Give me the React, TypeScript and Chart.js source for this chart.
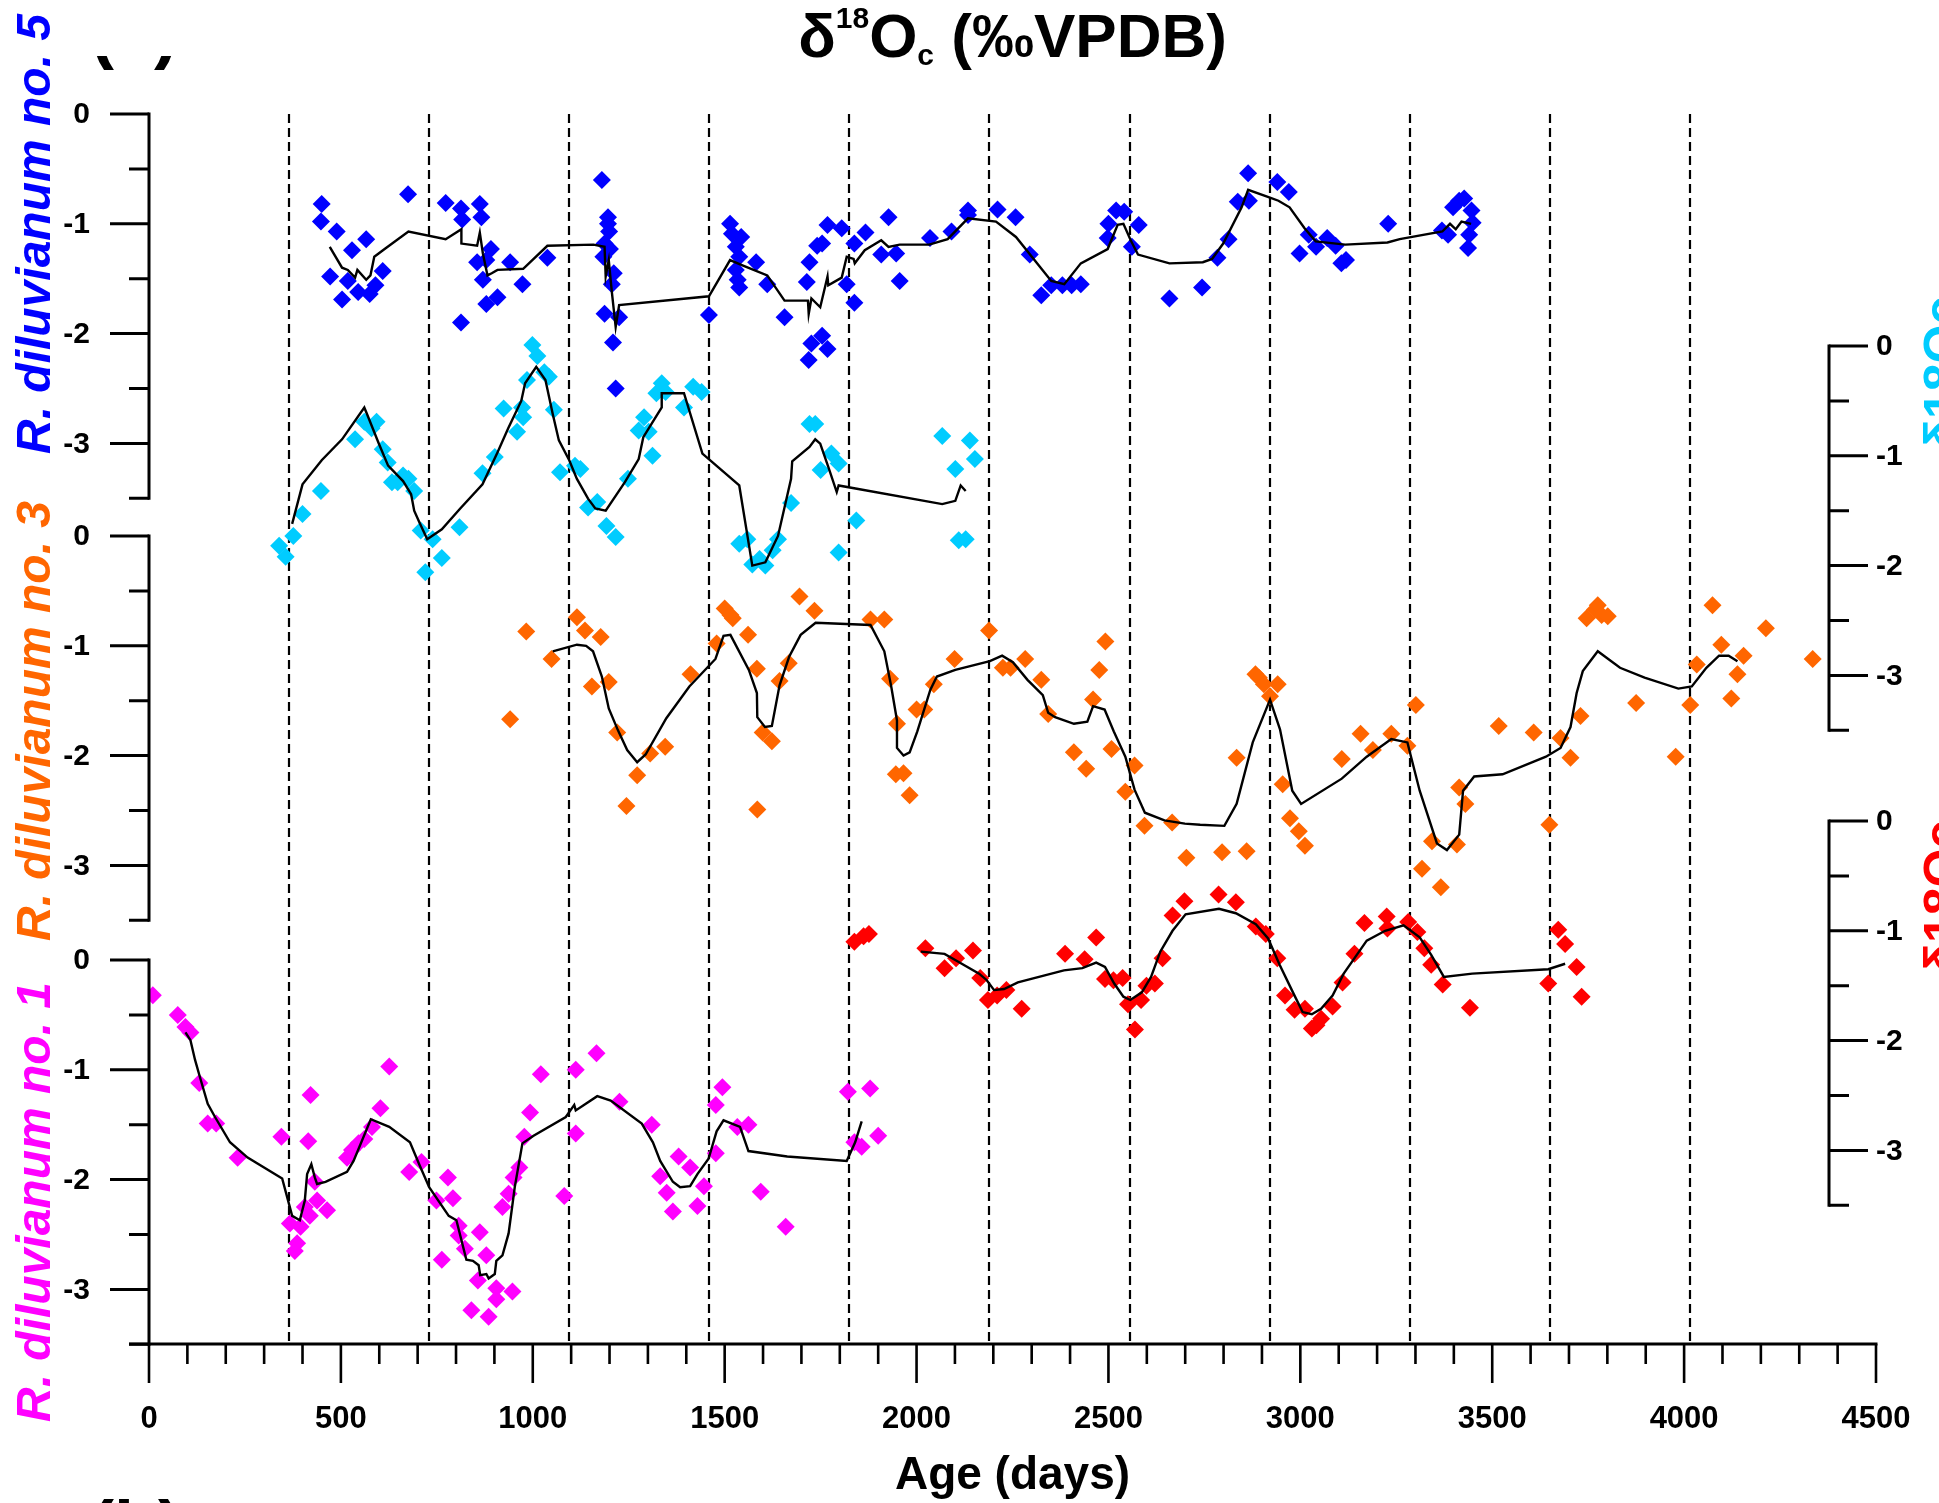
import { useEffect, useRef } from 'react';
import { Chart, registerables } from 'chart.js';

Chart.register(...registerables);

// ---------------- data ----------------
// R. diluvianum no. 5 (blue, top left axis)
const blueDays = [448, 450, 472, 489, 503, 518, 529, 545, 566, 575, 590, 609, 675, 773, 813, 816, 813, 855, 862, 866, 870, 879, 879, 891, 908, 941, 973, 1038, 1180, 1184, 1187, 1187, 1196, 1196, 1199, 1201, 1206, 1209, 1211, 1216, 1225, 1459, 1514, 1519, 1529, 1529, 1534, 1538, 1538, 1543, 1582, 1611, 1656, 1714, 1719, 1721, 1726, 1741, 1754, 1754, 1768, 1768, 1805, 1818, 1838, 1838, 1867, 1908, 1927, 1947, 1956, 2035, 2091, 2134, 2134, 2211, 2258, 2295, 2325, 2351, 2380, 2404, 2428, 2498, 2500, 2520, 2541, 2561, 2579, 2659, 2744, 2784, 2813, 2837, 2864, 2866, 2940, 2970, 2998, 3022, 3041, 3070, 3092, 3107, 3119, 3229, 3369, 3385, 3398, 3414, 3427, 3437, 3440, 3446, 3449];
const blueValues = [-0.98, -0.82, -1.48, -1.07, -1.69, -1.52, -1.24, -1.62, -1.14, -1.64, -1.56, -1.43, -0.73, -0.81, -0.86, -0.96, -1.9, -1.35, -0.82, -0.94, -1.51, -1.33, -1.73, -1.23, -1.67, -1.35, -1.55, -1.31, -0.6, -1.3, -1.18, -1.82, -0.94, -1.0, -1.07, -1.23, -1.55, -2.08, -1.45, -2.5, -1.85, -1.83, -1.0, -1.09, -1.21, -1.42, -1.51, -1.3, -1.58, -1.12, -1.35, -1.55, -1.85, -1.53, -2.24, -1.35, -2.09, -1.2, -1.18, -2.02, -1.01, -2.14, -1.04, -1.55, -1.18, -1.72, -1.08, -1.28, -0.94, -1.27, -1.52, -1.13, -1.07, -0.88, -0.92, -0.87, -0.94, -1.28, -1.65, -1.56, -1.56, -1.56, -1.55, -1.13, -1.0, -0.88, -0.89, -1.21, -1.01, -1.68, -1.58, -1.31, -1.14, -0.8, -0.54, -0.79, -0.62, -0.71, -1.27, -1.1, -1.21, -1.13, -1.2, -1.36, -1.33, -1.0, -1.06, -1.1, -0.85, -0.79, -0.77, -1.22, -1.1, -0.88, -0.99];
const blueLineDays = [471, 503, 518, 537, 543, 566, 577, 587, 614, 676, 773, 814, 814, 855, 862, 870, 882, 893, 908, 975, 1038, 1158, 1187, 1190, 1198, 1206, 1216, 1225, 1459, 1514, 1548, 1611, 1656, 1717, 1719, 1726, 1749, 1768, 1770, 1805, 1818, 1836, 1839, 1865, 1908, 1927, 1956, 2033, 2081, 2134, 2207, 2259, 2351, 2385, 2428, 2498, 2524, 2539, 2558, 2577, 2659, 2746, 2770, 2799, 2847, 2864, 2919, 2943, 2972, 3011, 3040, 3117, 3227, 3259, 3370, 3390, 3405, 3420, 3445];
const blueLineValues = [-1.21, -1.4, -1.42, -1.49, -1.42, -1.51, -1.47, -1.3, -1.23, -1.07, -1.14, -1.05, -1.18, -1.2, -1.08, -1.27, -1.47, -1.45, -1.42, -1.41, -1.2, -1.19, -1.21, -1.48, -1.33, -1.62, -1.94, -1.74, -1.66, -1.33, -1.38, -1.47, -1.7, -1.7, -1.82, -1.68, -1.76, -1.48, -1.56, -1.49, -1.3, -1.32, -1.36, -1.24, -1.15, -1.21, -1.19, -1.19, -1.14, -0.95, -0.98, -1.12, -1.52, -1.55, -1.36, -1.23, -1.01, -1.0, -1.15, -1.28, -1.36, -1.35, -1.32, -1.18, -0.85, -0.69, -0.76, -0.79, -0.85, -1.04, -1.16, -1.19, -1.17, -1.14, -1.07, -1.0, -1.05, -0.98, -1.0];

// cyan series (top right axis)
const cyanDays = [339, 356, 376, 400, 448, 537, 561, 580, 593, 609, 622, 633, 648, 662, 676, 691, 708, 720, 739, 763, 809, 869, 901, 924, 959, 972, 975, 985, 999, 1012, 1030, 1042, 1055, 1071, 1110, 1124, 1144, 1168, 1192, 1216, 1248, 1276, 1290, 1302, 1312, 1322, 1336, 1346, 1394, 1418, 1440, 1538, 1559, 1572, 1591, 1606, 1625, 1639, 1673, 1721, 1736, 1750, 1778, 1797, 1797, 1843, 2067, 2101, 2110, 2128, 2139, 2152];
const cyanValues = [-1.82, -1.92, -1.73, -1.53, -1.32, -0.85, -0.69, -0.75, -0.69, -0.94, -1.06, -1.24, -1.24, -1.18, -1.21, -1.32, -1.68, -2.06, -1.76, -1.93, -1.65, -1.16, -1.01, -0.57, -0.78, -0.56, -0.65, -0.31, 0.01, -0.09, -0.24, -0.28, -0.58, -1.15, -1.09, -1.12, -1.47, -1.42, -1.64, -1.74, -1.21, -0.77, -0.65, -0.78, -1.0, -0.43, -0.34, -0.42, -0.56, -0.37, -0.42, -1.8, -1.76, -1.99, -1.94, -2.0, -1.86, -1.76, -1.43, -0.71, -0.71, -1.13, -0.98, -1.07, -1.88, -1.59, -0.82, -1.12, -1.77, -1.76, -0.86, -1.03];
const cyanLineDays = [373, 400, 450, 503, 561, 568, 599, 623, 662, 683, 691, 705, 725, 763, 811, 869, 908, 936, 970, 980, 1009, 1033, 1052, 1068, 1095, 1115, 1144, 1163, 1190, 1240, 1276, 1288, 1336, 1336, 1394, 1442, 1538, 1572, 1606, 1639, 1673, 1676, 1721, 1736, 1749, 1770, 1792, 1797, 2067, 2101, 2115, 2128];
const cyanLineValues = [-1.62, -1.26, -1.04, -0.85, -0.56, -0.62, -0.89, -1.09, -1.23, -1.35, -1.5, -1.61, -1.76, -1.67, -1.48, -1.26, -0.97, -0.75, -0.5, -0.34, -0.19, -0.31, -0.62, -0.86, -1.04, -1.21, -1.39, -1.48, -1.5, -1.24, -1.03, -0.83, -0.56, -0.43, -0.43, -0.98, -1.27, -2.0, -1.97, -1.73, -1.21, -1.05, -0.92, -0.85, -0.89, -1.1, -1.33, -1.27, -1.44, -1.41, -1.27, -1.32];

// R. diluvianum no. 3 (orange, middle left axis)
const orangeDays = [941, 983, 1049, 1115, 1136, 1154, 1177, 1198, 1220, 1244, 1272, 1306, 1345, 1411, 1479, 1500, 1515, 1521, 1561, 1584, 1585, 1599, 1623, 1643, 1667, 1695, 1734, 1880, 1916, 1931, 1946, 1949, 1966, 1982, 2000, 2020, 2045, 2099, 2189, 2225, 2245, 2283, 2325, 2343, 2410, 2442, 2460, 2476, 2492, 2508, 2544, 2568, 2594, 2666, 2703, 2796, 2834, 2860, 2883, 2892, 2905, 2921, 2941, 2954, 2973, 2996, 3012, 3108, 3157, 3189, 3237, 3279, 3301, 3317, 3343, 3366, 3408, 3414, 3430, 3517, 3608, 3649, 3678, 3704, 3730, 3746, 3768, 3775, 3785, 3801, 3875, 3978, 4016, 4033, 4074, 4097, 4123, 4139, 4155, 4213, 4335];
const orangeValues = [-1.67, -0.87, -1.12, -0.74, -0.86, -1.37, -0.92, -1.33, -1.79, -2.46, -2.18, -1.98, -1.92, -1.26, -0.98, -0.66, -0.72, -0.75, -0.9, -1.21, -2.49, -1.79, -1.87, -1.32, -1.16, -0.55, -0.68, -0.76, -0.76, -1.3, -2.17, -1.71, -2.16, -2.36, -1.58, -1.58, -1.35, -1.12, -0.86, -1.2, -1.2, -1.12, -1.31, -1.62, -1.97, -2.12, -1.49, -1.22, -0.96, -1.94, -2.33, -2.09, -2.64, -2.61, -2.93, -2.88, -2.02, -2.87, -1.26, -1.29, -1.35, -1.46, -1.35, -2.26, -2.57, -2.69, -2.82, -2.03, -1.8, -1.95, -1.8, -1.91, -1.54, -3.03, -2.78, -3.2, -2.81, -2.29, -2.44, -1.73, -1.79, -2.63, -1.84, -2.02, -1.64, -0.75, -0.67, -0.63, -0.72, -0.73, -1.52, -2.01, -1.54, -1.17, -0.63, -0.99, -1.48, -1.26, -1.09, -0.84, -1.12];
const orangeLineDays = [1052, 1115, 1139, 1157, 1180, 1198, 1222, 1246, 1272, 1294, 1348, 1408, 1476, 1497, 1515, 1563, 1584, 1585, 1605, 1623, 1643, 1668, 1698, 1737, 1880, 1916, 1934, 1949, 1949, 1966, 1982, 2002, 2036, 2053, 2101, 2191, 2223, 2251, 2289, 2329, 2343, 2361, 2410, 2445, 2460, 2490, 2514, 2544, 2568, 2595, 2646, 2699, 2739, 2802, 2834, 2876, 2921, 2947, 2979, 3002, 3108, 3173, 3237, 3279, 3311, 3356, 3382, 3414, 3424, 3453, 3527, 3640, 3678, 3704, 3720, 3736, 3775, 3833, 3897, 3985, 4020, 4058, 4091, 4116, 4139];
const orangeLineValues = [-1.05, -0.99, -1.0, -1.05, -1.28, -1.57, -1.77, -1.95, -2.06, -1.99, -1.66, -1.37, -1.12, -0.91, -0.9, -1.22, -1.43, -1.65, -1.74, -1.73, -1.36, -1.1, -0.9, -0.79, -0.81, -1.05, -1.37, -1.68, -1.93, -2.0, -1.97, -1.78, -1.4, -1.28, -1.22, -1.14, -1.09, -1.15, -1.31, -1.45, -1.61, -1.65, -1.71, -1.69, -1.55, -1.58, -1.78, -2.01, -2.31, -2.52, -2.59, -2.62, -2.63, -2.64, -2.44, -1.88, -1.49, -1.76, -2.32, -2.44, -2.21, -2.01, -1.85, -1.88, -2.32, -2.8, -2.86, -2.72, -2.32, -2.19, -2.17, -2.01, -1.93, -1.74, -1.43, -1.23, -1.05, -1.2, -1.29, -1.39, -1.37, -1.2, -1.09, -1.09, -1.14];

// red series (bottom right axis)
const redDays = [1838, 1862, 1876, 2023, 2073, 2103, 2147, 2166, 2186, 2210, 2234, 2274, 2387, 2438, 2468, 2491, 2513, 2537, 2551, 2569, 2585, 2599, 2621, 2641, 2667, 2698, 2787, 2832, 2884, 2910, 2940, 2960, 2985, 3012, 3030, 3042, 3054, 3084, 3110, 3141, 3167, 3225, 3227, 3281, 3305, 3323, 3341, 3371, 3442, 3646, 3672, 3690, 3720, 3733];
const redValues = [-1.1, -1.05, -1.03, -1.16, -1.34, -1.25, -1.18, -1.43, -1.63, -1.59, -1.54, -1.71, -1.21, -1.26, -1.06, -1.44, -1.45, -1.43, -1.67, -1.9, -1.63, -1.5, -1.48, -1.25, -0.86, -0.73, -0.67, -0.74, -0.96, -1.03, -1.25, -1.59, -1.72, -1.71, -1.89, -1.86, -1.8, -1.69, -1.47, -1.21, -0.93, -0.87, -0.98, -0.92, -1.01, -1.16, -1.31, -1.49, -1.7, -1.48, -0.99, -1.12, -1.33, -1.6];
const redLineDays = [2011, 2073, 2103, 2163, 2183, 2202, 2228, 2264, 2384, 2432, 2468, 2491, 2515, 2539, 2557, 2587, 2611, 2635, 2667, 2701, 2788, 2832, 2884, 2916, 2946, 2982, 3006, 3030, 3054, 3084, 3113, 3143, 3173, 3221, 3269, 3311, 3341, 3374, 3448, 3646, 3690];
const redLineValues = [-1.19, -1.21, -1.27, -1.39, -1.45, -1.54, -1.53, -1.47, -1.36, -1.34, -1.29, -1.33, -1.48, -1.6, -1.63, -1.56, -1.42, -1.19, -1.0, -0.85, -0.8, -0.84, -0.94, -1.07, -1.31, -1.57, -1.74, -1.76, -1.71, -1.59, -1.39, -1.24, -1.09, -1.0, -0.95, -1.06, -1.22, -1.42, -1.39, -1.35, -1.3];

// R. diluvianum no. 1 (magenta, bottom left axis)
const pinkDays = [10, 75, 95, 108, 131, 153, 175, 231, 345, 367, 380, 386, 395, 406, 415, 419, 421, 432, 438, 464, 516, 529, 546, 561, 581, 603, 626, 678, 710, 749, 763, 779, 792, 807, 807, 823, 840, 857, 862, 879, 885, 905, 905, 921, 937, 947, 950, 965, 978, 993, 1021, 1082, 1112, 1112, 1166, 1226, 1310, 1332, 1349, 1365, 1380, 1410, 1429, 1446, 1477, 1477, 1494, 1533, 1562, 1594, 1659, 1821, 1838, 1857, 1879, 1900];
const pinkValues = [-0.32, -0.5, -0.61, -0.66, -1.12, -1.49, -1.49, -1.8, -1.61, -2.4, -2.65, -2.58, -2.43, -2.25, -1.65, -2.33, -1.23, -2.02, -2.19, -2.28, -1.8, -1.73, -1.67, -1.63, -1.52, -1.35, -0.97, -1.93, -1.84, -2.19, -2.73, -1.98, -2.17, -2.42, -2.51, -2.63, -3.19, -2.92, -2.48, -2.69, -3.25, -2.99, -3.09, -2.25, -2.13, -3.02, -1.98, -1.89, -1.61, -1.39, -1.04, -2.15, -1.58, -1.0, -0.85, -1.29, -1.5, -1.97, -2.12, -2.29, -1.79, -1.89, -2.24, -2.06, -1.76, -1.32, -1.16, -1.52, -1.5, -2.11, -2.43, -1.2, -1.66, -1.7, -1.17, -1.6];
const pinkLineDays = [95, 108, 120, 133, 153, 172, 211, 257, 347, 360, 373, 393, 406, 412, 423, 432, 438, 460, 516, 533, 578, 626, 680, 704, 730, 781, 801, 827, 844, 859, 863, 879, 885, 901, 905, 921, 937, 953, 973, 1002, 1086, 1108, 1112, 1168, 1203, 1284, 1313, 1332, 1365, 1384, 1410, 1429, 1458, 1479, 1497, 1540, 1562, 1663, 1818, 1840, 1857];
const pinkLineValues = [-0.66, -0.73, -0.91, -1.07, -1.31, -1.43, -1.66, -1.8, -1.99, -2.16, -2.33, -2.37, -2.19, -1.95, -1.86, -1.98, -2.04, -2.02, -1.93, -1.83, -1.45, -1.52, -1.66, -1.86, -2.07, -2.33, -2.37, -2.73, -2.74, -2.78, -2.87, -2.86, -2.9, -2.86, -2.74, -2.69, -2.49, -2.07, -1.67, -1.6, -1.43, -1.32, -1.37, -1.24, -1.28, -1.49, -1.66, -1.83, -2.02, -2.07, -2.06, -1.95, -1.81, -1.56, -1.46, -1.52, -1.74, -1.79, -1.83, -1.66, -1.47];

// yearly marks (dashed lines) and axis ticks
const yearMarks = [365, 730, 1095, 1460, 1825, 2190, 2555, 2920, 3285, 3650, 4015];
const xMajorTicks = [0, 500, 1000, 1500, 2000, 2500, 3000, 3500, 4000, 4500];
const yMajorTicks = [0, -1, -2, -3];
const yMinorTicks = [-0.5, -1.5, -2.5, -3.5];

// ---------------- layout / style ----------------
const W = 1939;
const H = 1503;
const AREA = { left: 149, top: 114, right: 1876, bottom: 1344 };
const UNIT_PX = 109.8;
const RIGHT_AXIS_X = 1829;
const FONT = '"Liberation Sans", Arial, sans-serif';
const BLUE = '#0000FF';
const CYAN = '#00CCFF';
const ORANGE = '#FF6600';
const RED = '#FF0000';
const MAGENTA = '#FF00FF';

function rangeFor(zeroPx: number) {
  const max = (zeroPx - AREA.top) / UNIT_PX;
  const min = max - (AREA.bottom - AREA.top) / UNIT_PX;
  return { min, max };
}

function pts(xs: number[], ys: number[]) {
  return xs.map((x, i) => ({ x, y: ys[i] }));
}

function drawYAxis(ctx: CanvasRenderingContext2D, scale: any, xLine: number, side: number) {
  const yTop = scale.getPixelForValue(0);
  const yBot = scale.getPixelForValue(-3.5);
  ctx.save();
  ctx.strokeStyle = '#000';
  ctx.lineWidth = 3;
  ctx.lineCap = 'butt';
  ctx.beginPath();
  ctx.moveTo(xLine, yTop - 1.5);
  ctx.lineTo(xLine, yBot + 1.5);
  ctx.stroke();
  ctx.beginPath();
  for (const v of yMajorTicks) {
    const y = scale.getPixelForValue(v);
    ctx.moveTo(xLine, y);
    ctx.lineTo(xLine + side * 39, y);
  }
  for (const v of yMinorTicks) {
    const y = scale.getPixelForValue(v);
    ctx.moveTo(xLine, y);
    ctx.lineTo(xLine + side * 20, y);
  }
  ctx.stroke();
  ctx.fillStyle = '#000';
  ctx.font = `bold 30px ${FONT}`;
  ctx.textBaseline = 'middle';
  ctx.textAlign = side < 0 ? 'right' : 'left';
  for (const v of yMajorTicks) {
    const y = scale.getPixelForValue(v);
    ctx.fillText(String(v), side < 0 ? xLine - 59 : xLine + 47, y + 1);
  }
  ctx.restore();
}

function drawRotated(ctx: CanvasRenderingContext2D, text: string, x: number, y: number, font: string, color: string, baseline: CanvasTextBaseline) {
  ctx.save();
  ctx.translate(x, y);
  ctx.rotate(-Math.PI / 2);
  ctx.font = font;
  ctx.fillStyle = color;
  ctx.textAlign = 'center';
  ctx.textBaseline = baseline;
  ctx.fillText(text, 0, 0);
  ctx.restore();
}

const decorPlugin = {
  id: 'decor',
  beforeDatasetsDraw(chart: any) {
    const ctx = chart.ctx as CanvasRenderingContext2D;
    const xs = chart.scales.x;
    const { top, bottom } = chart.chartArea;
    ctx.save();
    ctx.strokeStyle = '#000';
    ctx.lineWidth = 2.2;
    ctx.setLineDash([9, 5]);
    for (const d of yearMarks) {
      const px = Math.round(xs.getPixelForValue(d));
      ctx.beginPath();
      ctx.moveTo(px, top);
      ctx.lineTo(px, bottom);
      ctx.stroke();
    }
    ctx.restore();
  },
  afterDraw(chart: any) {
    const ctx = chart.ctx as CanvasRenderingContext2D;
    const xs = chart.scales.x;
    const { left, right, bottom } = chart.chartArea;

    // left axes
    drawYAxis(ctx, chart.scales.yBlue, left, -1);
    drawYAxis(ctx, chart.scales.yOrange, left, -1);
    drawYAxis(ctx, chart.scales.yPink, left, -1);
    // right axes
    drawYAxis(ctx, chart.scales.yCyan, RIGHT_AXIS_X, 1);
    drawYAxis(ctx, chart.scales.yRed, RIGHT_AXIS_X, 1);

    // x axis
    ctx.save();
    ctx.strokeStyle = '#000';
    ctx.lineWidth = 3;
    ctx.beginPath();
    ctx.moveTo(left - 20, bottom);
    ctx.lineTo(right + 1.5, bottom);
    ctx.stroke();
    ctx.beginPath();
    for (let d = 0; d <= 4500; d += 100) {
      const px = xs.getPixelForValue(d);
      const major = d % 500 === 0;
      ctx.moveTo(px, bottom);
      ctx.lineTo(px, bottom + (major ? 39 : 20));
    }
    ctx.lineWidth = 2.6;
    ctx.stroke();
    ctx.fillStyle = '#000';
    ctx.font = `bold 31px ${FONT}`;
    ctx.textAlign = 'center';
    ctx.textBaseline = 'middle';
    for (const d of xMajorTicks) {
      ctx.fillText(String(d), xs.getPixelForValue(d), 1419);
    }
    ctx.font = `bold 46px ${FONT}`;
    ctx.textBaseline = 'alphabetic';
    ctx.fillText('Age (days)', (left + right) / 2, 1489);
    ctx.restore();

    // left axis titles
    const titleFont = `italic bold 48px ${FONT}`;
    drawRotated(ctx, 'R. diluvianum no. 5', 50, 234, titleFont, BLUE, 'alphabetic');
    drawRotated(ctx, 'R. diluvianum no. 3', 50, 721, titleFont, ORANGE, 'alphabetic');
    drawRotated(ctx, 'R. diluvianum no. 1', 50, 1202, titleFont, MAGENTA, 'alphabetic');

    // right axis titles (clipped at the canvas edge)
    drawRotated(ctx, 'δ18Oc', 1920, 373, `bold 50px ${FONT}`, CYAN, 'top');
    drawRotated(ctx, 'δ18Oc', 1920, 897, `bold 50px ${FONT}`, RED, 'top');

    // main title with super/subscript
    ctx.save();
    ctx.fillStyle = '#000';
    ctx.textBaseline = 'alphabetic';
    ctx.textAlign = 'left';
    const big = `bold 62px ${FONT}`;
    const small = `bold 30px ${FONT}`;
    const parts: [string, string, number][] = [
      ['δ', big, 0],
      ['18', small, -29],
      ['O', big, 0],
      ['c', small, 8],
      [' (‰VPDB)', big, 0],
    ];
    let total = 0;
    for (const [t, f] of parts) {
      ctx.font = f;
      total += ctx.measureText(t).width;
    }
    let x = (left + right) / 2 - total / 2;
    for (const [t, f, dy] of parts) {
      ctx.font = f;
      ctx.fillText(t, x, 57 + dy);
      x += ctx.measureText(t).width;
    }
    ctx.restore();

    // clipped panel labels
    ctx.save();
    ctx.beginPath();
    ctx.rect(0, 56, 300, 40);
    ctx.clip();
    ctx.fillStyle = '#000';
    ctx.font = `bold 72px ${FONT}`;
    ctx.textAlign = 'left';
    ctx.textBaseline = 'alphabetic';
    ctx.fillText('(a)', 90, 55);
    ctx.restore();
    ctx.save();
    ctx.fillStyle = '#000';
    ctx.font = `bold 72px ${FONT}`;
    ctx.textAlign = 'left';
    ctx.textBaseline = 'alphabetic';
    ctx.fillText('(b)', 90, 1552);
    ctx.restore();
  },
};

export default function App() {
  const canvasRef = useRef<HTMLCanvasElement | null>(null);

  useEffect(() => {
    const canvas = canvasRef.current;
    if (!canvas) return;
    const pointDs = (label: string, xs: number[], ys: number[], color: string, axis: string) => ({
      label,
      data: pts(xs, ys),
      yAxisID: axis,
      showLine: false,
      pointStyle: 'rectRot',
      pointRadius: 9,
      pointHoverRadius: 9,
      pointBackgroundColor: color,
      pointBorderColor: color,
      pointBorderWidth: 0,
      order: 2,
    });
    const lineDs = (label: string, xs: number[], ys: number[], axis: string) => ({
      label,
      data: pts(xs, ys),
      yAxisID: axis,
      showLine: true,
      borderColor: '#000',
      borderWidth: 2.4,
      pointRadius: 0,
      pointHoverRadius: 0,
      tension: 0,
      fill: false,
      order: 1,
    });
    const yScale = (zeroPx: number) => ({
      type: 'linear' as const,
      display: false,
      bounds: 'data' as const,
      ...rangeFor(zeroPx),
    });

    const chart = new Chart(canvas, {
      type: 'scatter',
      data: {
        datasets: [
          lineDs('no. 5 mean', blueLineDays, blueLineValues, 'yBlue'),
          lineDs('cyan mean', cyanLineDays, cyanLineValues, 'yCyan'),
          lineDs('no. 3 mean', orangeLineDays, orangeLineValues, 'yOrange'),
          lineDs('red mean', redLineDays, redLineValues, 'yRed'),
          lineDs('no. 1 mean', pinkLineDays, pinkLineValues, 'yPink'),
          pointDs('R. diluvianum no. 5', blueDays, blueValues, BLUE, 'yBlue'),
          pointDs('cyan', cyanDays, cyanValues, CYAN, 'yCyan'),
          pointDs('R. diluvianum no. 3', orangeDays, orangeValues, ORANGE, 'yOrange'),
          pointDs('red', redDays, redValues, RED, 'yRed'),
          pointDs('R. diluvianum no. 1', pinkDays, pinkValues, MAGENTA, 'yPink'),
        ] as any,
      },
      options: {
        responsive: false,
        maintainAspectRatio: false,
        animation: false,
        devicePixelRatio: 1,
        layout: {
          padding: { left: AREA.left, top: AREA.top, right: W - AREA.right, bottom: H - AREA.bottom },
        },
        plugins: {
          legend: { display: false },
          tooltip: { enabled: false },
          title: { display: false },
        },
        scales: {
          x: { type: 'linear', display: false, min: 0, max: 4500, bounds: 'data' },
          yBlue: yScale(114),
          yCyan: yScale(346),
          yOrange: yScale(536),
          yRed: yScale(821),
          yPink: yScale(960),
        } as any,
      },
      plugins: [decorPlugin],
    });
    return () => chart.destroy();
  }, []);

  return (
    <div style={{ position: 'absolute', left: 0, top: 0, width: W, height: H, background: '#fff', overflow: 'hidden' }}>
      <canvas ref={canvasRef} width={W} height={H} style={{ display: 'block', width: W, height: H }} />
    </div>
  );
}
